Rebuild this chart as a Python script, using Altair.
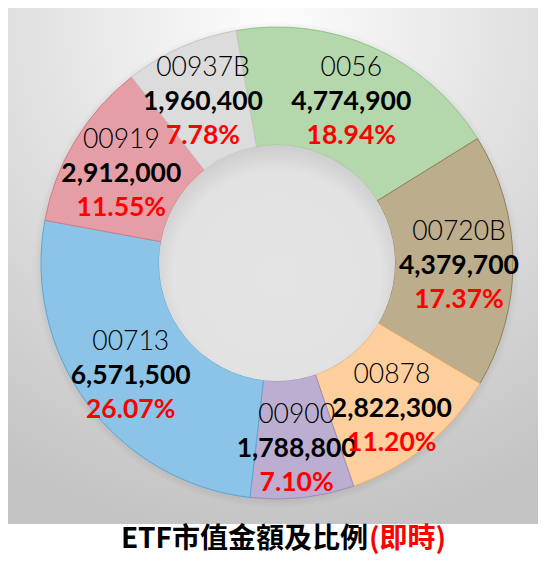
import math
import altair as alt
import pandas as pd

# ---- data ----
names = ["0056", "00720B", "00878", "00900", "00713", "00919", "00937B"]
values = [4774900, 4379700, 2822300, 1788800, 6571500, 2912000, 1960400]
pct_labels = ["18.94%", "17.37%", "11.20%", "7.10%", "26.07%", "11.55%", "7.78%"]
title_black = "ETF市值金額及比例"
title_red = "(即時)"

# ---- styling ----
fill_colors = ["#b4d7ab", "#bcad8c", "#fccf9d", "#bcaed1", "#8bc4e6", "#e69ea6", "#dcdcdc"]
edge_colors = ["#93c486", "#8f7f5c", "#f3b06e", "#9f8cbd", "#5aa7da", "#d57c87", "#c6c6c6"]

df = pd.DataFrame({"name": names, "value": values, "pct": pct_labels,
                   "idx": list(range(len(names)))})
one = pd.DataFrame({"k": [0]})

W, H = 530, 549
CX, CY = 269, 255
R_OUT, R_IN = 236, 118
R_LAB = 182
START = math.radians(-10)
LABEL_FONT = "Lato"
LFS = 26.5

theta_scale = alt.Scale(range=[START, START + 2 * math.pi])

background = alt.Chart(one).mark_rect(
    color=alt.RadialGradient(
        gradient="radial", x1=0.5, y1=0.05, x2=0.5, y2=0.05, r1=0, r2=0.95,
        stops=[alt.GradientStop(offset=0, color="#fdfdfd"),
               alt.GradientStop(offset=1, color="#c4c4c4")])
).encode(x=alt.value(-2), x2=alt.value(W + 2), y=alt.value(-2), y2=alt.value(516))

shadow = alt.Chart(one).mark_arc(
    theta=0, theta2=2 * math.pi, outerRadius=R_OUT + 7, innerRadius=0,
    color=alt.RadialGradient(
        gradient="radial", x1=0.5, y1=0.5, x2=0.5, y2=0.5, r1=0, r2=0.5,
        stops=[alt.GradientStop(offset=0, color="rgba(0,0,0,0.10)"),
               alt.GradientStop(offset=0.95, color="rgba(0,0,0,0.10)"),
               alt.GradientStop(offset=1, color="rgba(0,0,0,0)")])
).encode(x=alt.value(CX), y=alt.value(CY + 2))

base = alt.Chart(df).encode(
    theta=alt.Theta("value:Q", stack=True, scale=theta_scale),
    order=alt.Order("idx:Q"),
)

arcs = base.mark_arc(outerRadius=R_OUT, innerRadius=R_IN, strokeWidth=1).encode(
    x=alt.value(CX), y=alt.value(CY),
    color=alt.Color("name:N", scale=alt.Scale(domain=names, range=fill_colors), legend=None),
    stroke=alt.Stroke("name:N", scale=alt.Scale(domain=names, range=edge_colors), legend=None),
)

hole = alt.Chart(one).mark_arc(
    theta=0, theta2=2 * math.pi, outerRadius=R_IN, innerRadius=0,
    color=alt.RadialGradient(
        gradient="radial", x1=0.5, y1=0.55, x2=0.5, y2=0.55, r1=0, r2=0.55,
        stops=[alt.GradientStop(offset=0, color="#e4e4e4"),
               alt.GradientStop(offset=0.8, color="#e2e2e2"),
               alt.GradientStop(offset=1, color="#cdcdcd")])
).encode(x=alt.value(CX), y=alt.value(CY))

lab_name = base.mark_text(radius=R_LAB, dy=-29, font=LABEL_FONT, fontSize=LFS,
                          fontWeight=300, color="#000000", baseline="middle").encode(
    x=alt.value(CX), y=alt.value(CY), text="name:N", detail="name:N")
lab_val = base.mark_text(radius=R_LAB, dy=5, font=LABEL_FONT, fontSize=LFS,
                         fontWeight="bold", color="#000000", baseline="middle").encode(
    x=alt.value(CX), y=alt.value(CY), text=alt.Text("value:Q", format=","), detail="name:N")
lab_pct = base.mark_text(radius=R_LAB, dy=39, font=LABEL_FONT, fontSize=LFS,
                         fontWeight="bold", color="#ff0000", baseline="middle").encode(
    x=alt.value(CX), y=alt.value(CY), text="pct:N", detail="name:N")

t_black = alt.Chart(one).mark_text(
    font="Noto Sans CJK TC", fontSize=28, fontWeight="bold", color="#000000",
    align="right", baseline="alphabetic").encode(
    x=alt.value(360), y=alt.value(540), text=alt.value(title_black))
t_red = alt.Chart(one).mark_text(
    font="Noto Sans CJK TC", fontSize=28, fontWeight="bold", color="#ff0000",
    align="left", baseline="alphabetic").encode(
    x=alt.value(361), y=alt.value(540), text=alt.value(title_red))

chart = alt.layer(background, shadow, arcs, hole, lab_name, lab_val, lab_pct,
                  t_black, t_red).properties(
    width=W, height=H, padding=0, autosize=alt.AutoSizeParams(type="none"),
    background="#ffffff",
).configure_view(stroke=None)

chart.save("out.html", embed_options={"renderer": "svg", "actions": False})
